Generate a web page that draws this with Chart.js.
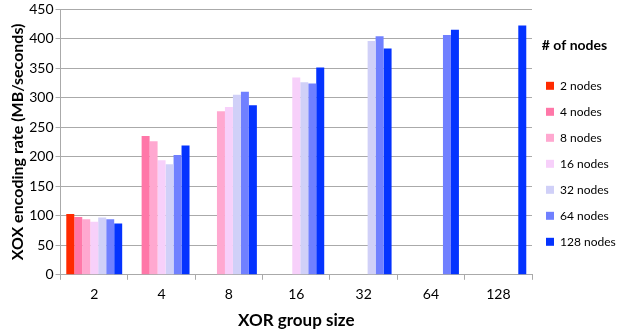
<!DOCTYPE html>
<html>
<head>
<meta charset="utf-8">
<script src="https://cdn.jsdelivr.net/npm/chart.js@4.4.0/dist/chart.umd.min.js"></script>
<style>
  html, body { margin: 0; padding: 0; background: #fff; }
</style>
</head>
<body>
<canvas id="xorChart" width="617" height="335"></canvas>
<script>
// XOR group size on the x axis, one series per node count
const groupSizes = ['2', '4', '8', '16', '32', '64', '128'];
const yTicks = [0, 50, 100, 150, 200, 250, 300, 350, 400, 450];

const nodes2   = [103, null, null, null, null, null, null];
const nodes4   = [98, 235, null, null, null, null, null];
const nodes8   = [94, 226, 277, null, null, null, null];
const nodes16  = [90, 194, 284, 334, null, null, null];
const nodes32  = [97, 187, 305, 326, 396, null, null];
const nodes64  = [94, 203, 310, 324, 404, 406, null];
const nodes128 = [87, 219, 287, 351, 383, 415, 422];

const seriesNames = ['2 nodes', '4 nodes', '8 nodes', '16 nodes', '32 nodes', '64 nodes', '128 nodes'];
const seriesData = [nodes2, nodes4, nodes8, nodes16, nodes32, nodes64, nodes128];
const colors = ['#ff2a00', '#ff77a8', '#ffa8d0', '#f7d0fa', '#d0d0f8', '#7080ff', '#0433ff'];

const fontFam = 'Lato, "Liberation Sans", sans-serif';

// keep the legend column narrow so the plot reaches x~532
const legendWidth = {
  id: 'legendWidth',
  beforeInit(chart) {
    const legend = chart.legend;
    const fit = legend.fit;
    legend.fit = function () { fit.call(this); this.width = 85; };
  }
};

new Chart(document.getElementById('xorChart'), {
  type: 'bar',
  data: {
    labels: groupSizes,
    datasets: seriesNames.map((name, i) => ({
      label: name,
      data: seriesData[i],
      backgroundColor: colors[i],
      borderWidth: 0,
      barPercentage: 1.0,
      categoryPercentage: 0.83
    }))
  },
  options: {
    responsive: false,
    animation: false,
    layout: { padding: { top: 0, right: 0, left: 0, bottom: 4 } },
    plugins: {
      tooltip: { enabled: false },
      legend: {
        position: 'right',
        align: 'start',
        title: {
          display: true,
          text: '# of nodes',
          color: '#000',
          font: { family: fontFam, size: 14, weight: 'bold' },
          padding: { top: 38, bottom: 11 }
        },
        labels: {
          boxWidth: 8,
          boxHeight: 8,
          color: '#000',
          padding: 14,
          font: { family: fontFam, size: 12 }
        }
      }
    },
    scales: {
      y: {
        min: 0,
        max: 450,
        afterBuildTicks: (axis) => { axis.ticks = yTicks.map(v => ({ value: v })); },
        ticks: { color: '#000', font: { family: fontFam, size: 14, lineHeight: 1 }, padding: 2 },
        grid: { color: '#aaaaaa', tickLength: 5 },
        border: { color: '#aaaaaa' },
        title: {
          display: true,
          text: 'XOX encoding rate (MB/seconds)',
          color: '#000',
          font: { family: fontFam, size: 16, weight: 'bold' },
          padding: { top: 8, bottom: 0 }
        }
      },
      x: {
        ticks: { color: '#000', font: { family: fontFam, size: 14 }, padding: 6 },
        grid: { drawOnChartArea: false, color: '#aaaaaa', tickLength: 5 },
        border: { color: '#aaaaaa' },
        title: {
          display: true,
          text: 'XOR group size',
          color: '#000',
          font: { family: fontFam, size: 17, weight: 'bold' },
          padding: { top: 2, bottom: 0 }
        }
      }
    }
  },
  plugins: [legendWidth]
});
</script>
</body>
</html>
